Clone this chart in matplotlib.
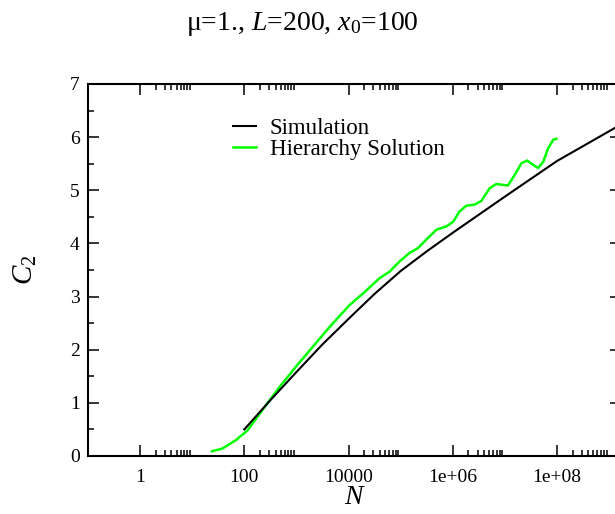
import numpy as np
import matplotlib
matplotlib.use("Agg")
import matplotlib.pyplot as plt
from matplotlib.ticker import FixedLocator, NullFormatter

plt.rcParams['font.family'] = ['Liberation Serif', 'DejaVu Serif']
plt.rcParams['mathtext.fontset'] = 'custom'
plt.rcParams['mathtext.rm'] = 'Liberation Serif'
plt.rcParams['mathtext.it'] = 'Liberation Serif:italic'

# ---- data ----
sim_logN = [2.0, 2.5, 3.0, 3.5, 4.0, 4.5, 5.0, 5.5, 6.0, 7.0, 8.0, 9.25]
sim_C2 = [0.50, 1.05, 1.58, 2.10, 2.58, 3.05, 3.48, 3.85, 4.20, 4.88, 5.55, 6.25]

hier_logN = [1.38, 1.58, 1.84, 2.06, 2.35, 2.67, 2.99, 3.31, 3.63, 4.02, 4.28,
             4.60, 4.79, 4.98, 5.17, 5.33, 5.50, 5.69, 5.88, 6.01, 6.13, 6.26,
             6.42, 6.55, 6.71, 6.84, 6.97, 7.06, 7.19, 7.32, 7.43, 7.54, 7.64,
             7.74, 7.83, 7.93, 7.99]
hier_C2 = [0.09, 0.14, 0.30, 0.48, 0.87, 1.29, 1.68, 2.05, 2.42, 2.84, 3.06,
           3.35, 3.47, 3.66, 3.82, 3.91, 4.08, 4.26, 4.32, 4.41, 4.60, 4.71,
           4.73, 4.80, 5.04, 5.12, 5.10, 5.09, 5.29, 5.51, 5.56, 5.48, 5.42,
           5.54, 5.79, 5.95, 5.97]

x_major = [1, 100, 1e4, 1e6, 1e8]
x_labels = ['1', '100', '10000', '1e+06', '1e+08']
y_major = [0, 1, 2, 3, 4, 5, 6, 7]

sim_N = [10 ** v for v in sim_logN]
hier_N = [10 ** v for v in hier_logN]

W, H = 615, 514
fig = plt.figure(figsize=(W / 100, H / 100), dpi=100)
ax = fig.add_axes([88 / W, (H - 456) / H, (621 - 88) / W, (456 - 84) / H])

ax.plot(sim_N, sim_C2, color='black', lw=1.5, label='Simulation', zorder=3)
ax.plot(hier_N, hier_C2, color='#00ff00', lw=1.8, label='Hierarchy Solution', zorder=2)

ax.set_xscale('log')
ax.set_xlim(0.1, 10 ** 9.23)
ax.set_ylim(0, 7)

ax.xaxis.set_major_locator(FixedLocator(x_major))
ax.set_xticklabels(x_labels)
minors = [m * M for M in [0.01] + x_major for m in range(2, 10)]
ax.xaxis.set_minor_locator(FixedLocator(minors))
ax.xaxis.set_minor_formatter(NullFormatter())
ax.yaxis.set_major_locator(FixedLocator(y_major))
ax.yaxis.set_minor_locator(FixedLocator([v + 0.5 for v in y_major[:-1]]))

ax.tick_params(which='both', direction='in', top=True, right=True, width=1.1, labelsize=14)
ax.tick_params(which='major', length=8, pad=6)
ax.tick_params(axis='x', which='major', pad=9)
ax.tick_params(which='minor', length=4.3)
for s in ax.spines.values():
    s.set_linewidth(1.5)

ax.set_xlabel('$N$', fontsize=20, labelpad=0)
ax.set_ylabel('$C_2$', fontsize=21, labelpad=22)
fig.text(302 / W, 1 - 30 / H, r'μ=1., $L$=200, $x_0$=100', ha='center', va='baseline', fontsize=20)

leg = ax.legend(loc='upper left', bbox_to_anchor=(233 / W, 1 - 118 / H), bbox_transform=fig.transFigure,
                frameon=False, fontsize=16.5, handlelength=1.0, handletextpad=0.6,
                labelspacing=0.0, borderpad=0, borderaxespad=0)

fig.savefig('out.png', dpi=100)
